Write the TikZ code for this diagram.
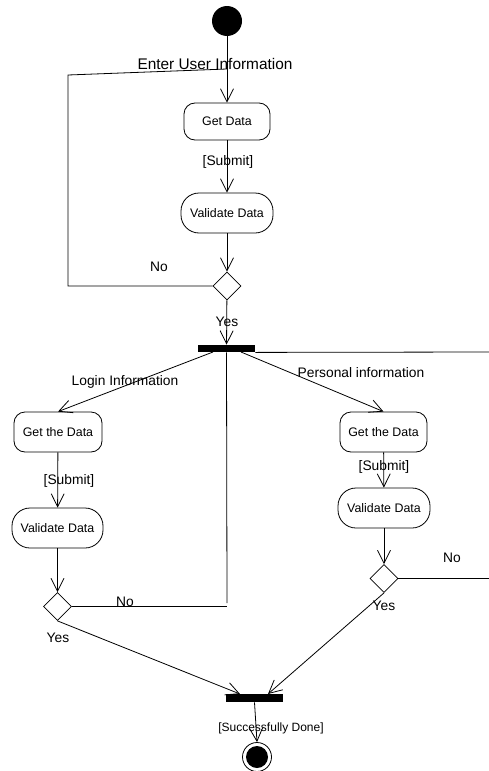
\documentclass[tikz,border=0pt]{standalone}
\usepackage{fontspec}
\setmainfont{Liberation Sans}
\usetikzlibrary{arrows.meta,shapes.geometric}
\begin{document}
\begin{tikzpicture}[x=1pt,y=-1pt,
  line width=0.8pt,
  flow/.style={-{Straight Barb[length=13pt,width=13pt,line width=0.8pt]}},
  acttext/.style={font=\fontsize{12.4}{14}\selectfont},
  getbox/.style={draw,rounded corners=11pt,acttext,inner sep=0pt},
  valbox/.style={draw,rounded corners=18pt,acttext,inner sep=0pt,minimum height=40pt,minimum width=92pt},
  decision/.style={draw,diamond,aspect=1,minimum width=28pt,minimum height=28pt,inner sep=0pt,fill=white},
  syncbar/.style={fill=black,rectangle,minimum width=57pt,minimum height=7pt,inner sep=0pt},
  lbl/.style={font=\fontsize{13.8}{15}\selectfont,inner sep=0pt},
  title/.style={font=\fontsize{15.4}{17}\selectfont,inner sep=0pt}
]
\useasboundingbox (0,0) rectangle (489,771);

% ---- user information block
\node[circle,fill=black,minimum size=30pt,inner sep=0pt] (start) at (227,21) {};
\node[getbox,minimum width=86pt,minimum height=37pt] (get) at (227,121.5) {Get Data};
\node[valbox] (val) at (227,213) {Validate Data};
\node[decision] (d1) at (227,286) {};
\node[syncbar] (fork) at (226.5,348.5) {};

\draw[flow] (start) -- (get);
\node[title] (entertxt) at (215,64) {Enter User Information};
\draw[flow] (get) -- (val);
\node[lbl] (sub1) at (228,162) {[Submit]};
\draw[flow] (val) -- (d1);
\draw[flow] (d1) -- (fork);
\node[lbl] (yes1) at (227,322) {Yes};

% loop back when the data is not valid
\coordinate (loopA) at (68,286);
\coordinate (loopB) at (68,75);
\coordinate (loopC) at (227,69);
\draw (d1.west) -- (loopA) -- (loopB) -- (loopC);
\node[lbl] (no1) at (159,267) {No};

% ---- fork into two branches
\coordinate (forkL) at (213,352);
\coordinate (forkR) at (241,352);
\coordinate (forkEdge) at (489,352);
\coordinate (forkDown) at (227,603);
\draw (fork.south east) -- (forkEdge);
\draw (fork.south) -- (forkDown);

% left branch: login information
\node[getbox,minimum width=88pt,minimum height=40pt] (get2) at (58,432) {Get the Data};
\node[valbox,minimum width=91pt] (val2) at (57.5,528) {Validate Data};
\node[decision] (d2) at (57.5,606.5) {};
\draw[flow] (forkL) -- (get2.north);
\node[lbl] (login) at (125,382) {Login Information};
\draw[flow] (get2) -- (val2);
\node[lbl] (sub2) at (69,481) {[Submit]};
\draw[flow] (val2) -- (d2);
\coordinate (noL) at (227,606.5);
\draw (d2.east) -- (noL);
\node[lbl] (no2) at (125,602) {No};

% right branch: personal information
\node[getbox,minimum width=87pt,minimum height=40pt] (get3) at (383.5,432) {Get the Data};
\node[valbox] (val3) at (384,508) {Validate Data};
\node[decision] (d3) at (384,578.5) {};
\draw[flow] (forkR) -- (get3.north);
\node[lbl] (personal) at (361,373) {Personal information};
\draw[flow] (get3) -- (val3);
\node[lbl,fill=white,fill opacity=0,text opacity=1] (sub3) at (384,467) {[Submit]};
\draw[flow] (val3) -- (d3);
\coordinate (noR) at (489,578.5);
\draw (d3.east) -- (noR);
\node[lbl] (no3) at (452,558) {No};

% ---- join and end
\node[syncbar,minimum height=8pt] (join) at (254.5,698) {};
\coordinate (joinInL) at (240,694);
\coordinate (joinInR) at (268,694);
\draw[flow] (d2.south) -- (joinInL);
\node[lbl] (yes2) at (58,638) {Yes};
\draw[flow] (d3.south) -- (joinInR);
\node[lbl] (yes3) at (384,606) {Yes};

\node[circle,draw,minimum size=29pt,inner sep=0pt,
  path picture={\fill (path picture bounding box.center) circle (11pt);}] (final) at (257,757) {};
\draw[flow] (join.south) -- (final.north);
\node[font=\fontsize{12}{14}\selectfont,inner sep=0pt] (done) at (271,728) {[Successfully Done]};
\end{tikzpicture}
\end{document}
